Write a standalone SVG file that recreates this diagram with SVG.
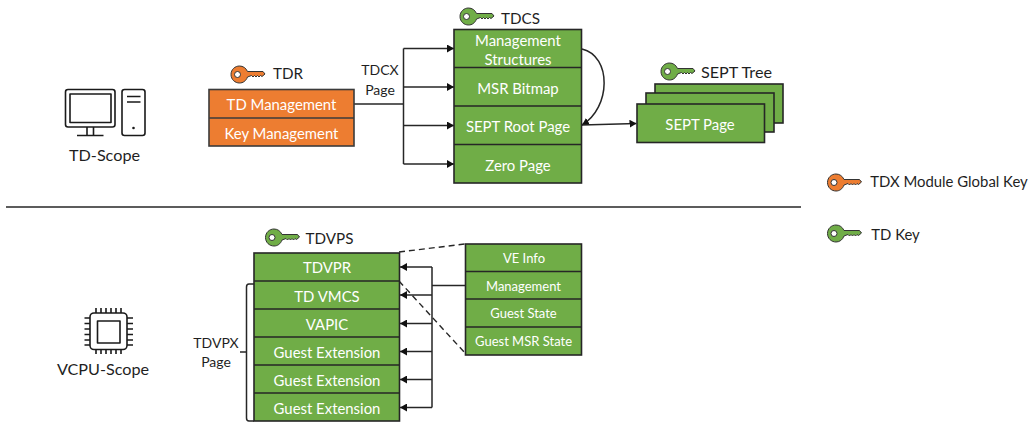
<svg xmlns="http://www.w3.org/2000/svg" width="1035" height="424" viewBox="0 0 1035 424">
<style>
text{font-family:"Lato","Open Sans","Liberation Sans",sans-serif;text-anchor:middle}
.k{fill:#1f1f1f;font-size:16.200px}
.m{fill:#1f1f1f;font-size:14px}
.h{fill:#1f1f1f;font-size:15.200px}
.w{fill:#fff;font-size:14.900px}
.s{fill:#fff;font-size:13px}
.g{fill:#70ad47;stroke:#262626;stroke-width:1.6}
.o{fill:#ed7d31;stroke:#3b3b3b;stroke-width:1.6}
.l{fill:none;stroke:#262626;stroke-width:1.5}
.i{fill:none;stroke:#1a1a1a;stroke-width:1.6;stroke-linejoin:round}
.d{fill:none;stroke:#262626;stroke-width:1.4;stroke-dasharray:6 4}
</style>
<defs>
<marker id="a" markerUnits="userSpaceOnUse" markerWidth="7" markerHeight="8" refX="7" refY="4" orient="auto"><path d="M0 0L7 4L0 8Z" fill="#111"/></marker>
<g id="key"><path d="M0 8.500C0 3.500 4 0 8.500 0C12 0 15 2 16.500 5.500L32 5.500L34 8L31 10.500L29.500 9.500L28 11L26.500 9.500L25 11L23.500 9.500L22 11L20.500 9.500L16.500 11C15 15 12 17 8.500 17C4 17 0 13.500 0 8.500ZM3.500 8.500A3 3 0 1 0 9.500 8.500A3 3 0 1 0 3.500 8.500Z" fill-rule="evenodd" stroke="#333" stroke-width="1"/></g>
</defs>

<g id="connectors">
<path class="l" d="M354 104H403.500"/>
<path class="l" d="M403.500 48.500V164"/>
<path class="l" marker-end="url(#a)" d="M403.500 48.500H454"/>
<path class="l" marker-end="url(#a)" d="M403.500 87H454"/>
<path class="l" marker-end="url(#a)" d="M403.500 125.500H454"/>
<path class="l" marker-end="url(#a)" d="M403.500 164H454"/>
<path class="l" marker-end="url(#a)" d="M582 49C612 56 611 108 582 125"/>
<path class="l" marker-end="url(#a)" d="M582 125L636.500 123.500"/>
<path class="l" d="M432 267V407.500M465.500 285.500H432"/>
<path class="l" marker-end="url(#a)" d="M432 267H400"/>
<path class="l" marker-end="url(#a)" d="M432 295H400"/>
<path class="l" marker-end="url(#a)" d="M432 323.500H400"/>
<path class="l" marker-end="url(#a)" d="M432 351.500H400"/>
<path class="l" marker-end="url(#a)" d="M432 379.500H400"/>
<path class="l" marker-end="url(#a)" d="M432 407.500H400"/>
<path class="d" d="M399 252L465 244"/>
<path class="d" d="M399 281L465 353"/>
<path class="l" d="M254 284H249Q246.500 284 246.500 287V418Q246.500 421 249 421H254M246.500 352H240"/>
<path d="M6 207H801" fill="none" stroke="#262626" stroke-width="1.3"/>
</g>

<g id="td-scope">
<rect class="i" x="65.500" y="89.500" width="49.500" height="37.500" rx="2.500"/>
<rect class="i" x="70" y="94" width="41" height="28.500"/>
<path class="i" d="M87 127V135.500M93.500 127V135.500M77 135.500H103.500"/>
<rect class="i" x="122" y="89.500" width="23" height="46" rx="2.500"/>
<path class="i" d="M127 96.500H140.500M127 102H140.500"/>
<circle cx="133.500" cy="128" r="1.300" fill="#1a1a1a"/>
<text class="k" x="104.500" y="161">TD-Scope</text>
</g>

<g id="vcpu-scope">
<rect class="i" x="90" y="313" width="37" height="36.500" rx="4"/>
<rect class="i" x="97.500" y="321" width="22.500" height="22"/>
<path class="i" d="M96 308V313M101 308V313M106 308V313M111 308V313M116 308V313M121 308V313M96 349V354M101 349V354M106 349V354M111 349V354M116 349V354M121 349V354M84.500 318H90M84.500 323.500H90M84.500 329H90M84.500 334.500H90M84.500 340H90M84.500 345H90M127 318H133M127 323.500H133M127 329H133M127 334.500H133M127 340H133M127 345H133"/>
<text class="k" x="103" y="375">VCPU-Scope</text>
</g>

<g id="tdr">
<use href="#key" x="231" y="66" fill="#ed7d31"/>
<text class="h" x="288" y="79">TDR</text>
<rect class="o" x="209" y="89.500" width="145" height="56.500"/>
<path class="o" d="M209 118H354"/>
<text class="w" x="281.500" y="110">TD Management</text>
<text class="w" x="281.500" y="139">Key Management</text>
</g>

<text class="m" x="380" y="75">TDCX</text>
<text class="m" x="380" y="95">Page</text>

<g id="tdcs">
<use href="#key" x="460" y="8" fill="#70ad47"/>
<text class="h" x="520.500" y="24">TDCS</text>
<rect class="g" x="454" y="29.500" width="127.500" height="153.500"/>
<path class="g" d="M454 67.500H581.500M454 106H581.500M454 144.500H581.500"/>
<text class="w" x="518" y="45.500">Management</text>
<text class="w" x="518" y="65">Structures</text>
<text class="w" x="518" y="93.500">MSR Bitmap</text>
<text class="w" x="518" y="132">SEPT Root Page</text>
<text class="w" x="518" y="171">Zero Page</text>
</g>

<g id="sept-tree">
<use href="#key" x="661" y="63" fill="#70ad47"/>
<text class="k" x="736.500" y="78">SEPT Tree</text>
<rect class="g" x="655" y="84" width="128" height="39"/>
<rect class="g" x="646" y="93" width="128" height="39"/>
<rect class="g" x="637" y="104" width="127.500" height="38.500"/>
<text class="w" x="700" y="129.500">SEPT Page</text>
</g>

<g id="tdvps">
<use href="#key" x="265.500" y="229" fill="#70ad47"/>
<text class="h" x="329.500" y="244">TDVPS</text>
<rect class="g" x="254" y="253" width="145.500" height="168"/>
<path class="g" d="M254 281H399.500M254 309H399.500M254 337H399.500M254 365H399.500M254 393H399.500"/>
<text class="w" x="327" y="273">TDVPR</text>
<text class="w" x="327" y="302">TD VMCS</text>
<text class="w" x="327" y="330">VAPIC</text>
<text class="w" x="327" y="358">Guest Extension</text>
<text class="w" x="327" y="386">Guest Extension</text>
<text class="w" x="327" y="414">Guest Extension</text>
</g>

<text class="m" x="216" y="348">TDVPX</text>
<text class="m" x="216" y="367">Page</text>

<g id="tdvpr-detail">
<rect class="g" x="465.500" y="244" width="116" height="111"/>
<path class="g" d="M465.500 271.500H581.500M465.500 299H581.500M465.500 327H581.500"/>
<text class="s" x="524" y="263">VE Info</text>
<text class="s" x="523.500" y="290.500">Management</text>
<text class="s" x="523.500" y="318">Guest State</text>
<text class="s" x="523.500" y="346">Guest MSR State</text>
</g>

<g id="legend-global">
<use href="#key" x="827.500" y="174" fill="#ed7d31"/>
<text class="m" x="949" y="187" style="font-size:14.900px">TDX Module Global Key</text>
</g>
<g id="legend-td">
<use href="#key" x="827.500" y="225" fill="#70ad47"/>
<text class="m" x="895.500" y="240" style="font-size:14.900px">TD Key</text>
</g>
</svg>
